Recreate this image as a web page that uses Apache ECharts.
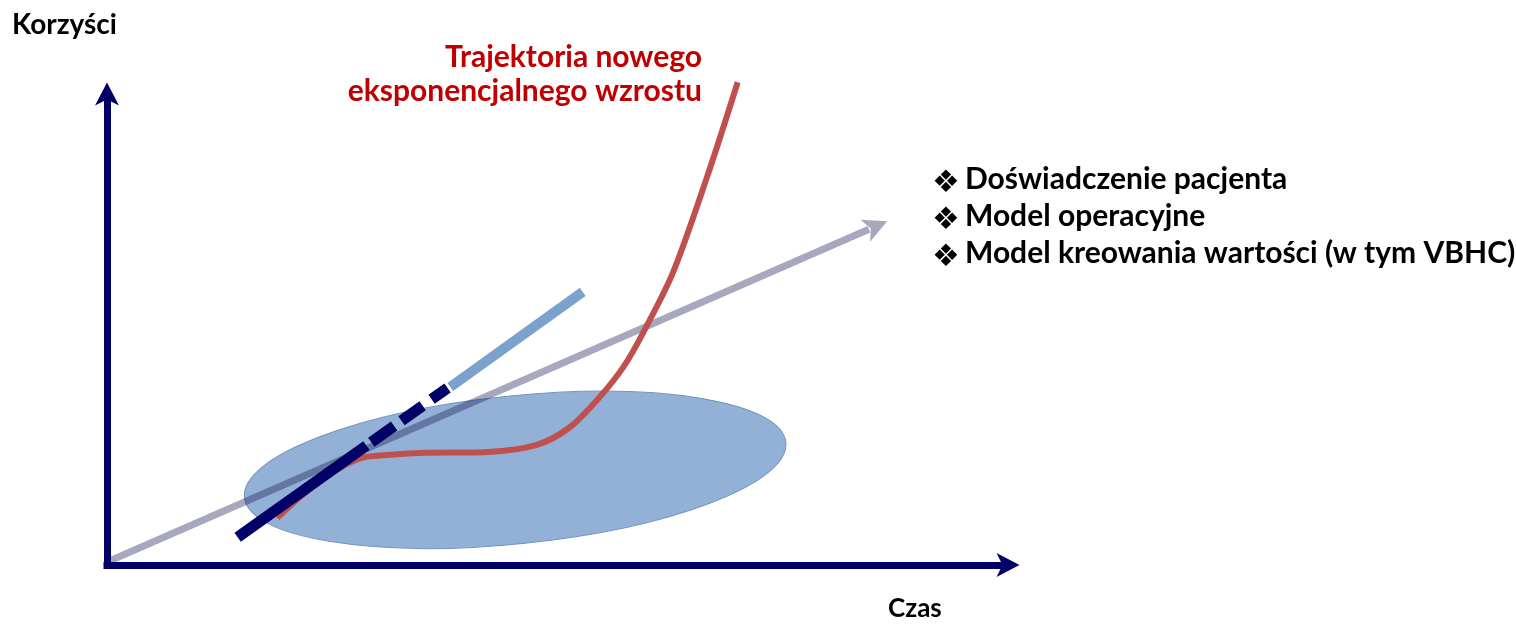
<!DOCTYPE html>
<html>
<head>
<meta charset="utf-8">
<script src="https://cdn.jsdelivr.net/npm/echarts@6/dist/echarts.min.js"></script>
<style>
  html, body { margin: 0; padding: 0; background: #fff; }
  #main { width: 1516px; height: 624px; }
</style>
</head>
<body>
<div id="main"></div>
<script>
// dane (jednostki umowne: czas 0-100, korzyści 0-100)
var trendArrow = [[0.2, 0.8, 86.6, 73.0]];           // szara strzałka: start x,y -> koniec x,y
var growthCurve = [
  [18.9, 10.0], [21.4, 14.4], [24.2, 18.5], [26.6, 21.4], [28.6, 22.9], [31.4, 23.4],
  [34.7, 23.8], [42.2, 24.0], [47.7, 25.5], [51.4, 29.3], [54.7, 35.7], [57.3, 42.0],
  [59.5, 49.3], [62.8, 62.0], [66.6, 82.4], [70.0, 102.5]
];
var linearDark = [[14.5, 5.9], [37.8, 37.6]];
var linearLight = [[38.1, 37.8], [52.8, 58.0]];
var cloud = [[45.3, 20.2, 30.2, 15.7, 5.8]];         // środek x,y, półosie, nachylenie (stopnie)
var bullets = ['Doświadczenie pacjenta', 'Model operacyjne', 'Model kreowania wartości (w tym VBHC)'];
var titleLines = ['Trajektoria nowego', 'eksponencjalnego wzrostu'];

var navy = '#000066';
var font = 'Lato, "Open Sans", sans-serif';

var mychart = echarts.init(document.getElementById('main'));

var hiddenAxis = {
  type: 'value',
  min: 0,
  max: 100,
  axisTick: { show: false },
  axisLabel: { show: false },
  splitLine: { show: false },
  axisLine: {
    show: true,
    symbol: ['none', 'path://M12,0 L24,23 L12,17 L0,23 Z'],
    symbolSize: [24, 23],
    lineStyle: { color: navy, width: 7, cap: 'square' }
  }
};

var option = {
  animation: false,
  grid: { left: 107, right: 508, top: 94, bottom: 59 },
  xAxis: hiddenAxis,
  yAxis: hiddenAxis,
  graphic: [
    { type: 'text', left: 12, top: 11, style: { text: 'Korzyści', font: 'bold 28px ' + font, fill: '#000' } },
    { type: 'text', left: 888, top: 596, style: { text: 'Czas', font: 'bold 26px ' + font, fill: '#000' } },
    { type: 'text', right: 1516 - 702, top: 42, style: { text: titleLines[0], font: 'bold 30px ' + font, fill: '#c00000', textAlign: 'right' } },
    { type: 'text', right: 1516 - 702, top: 76, style: { text: titleLines[1], font: 'bold 30px ' + font, fill: '#c00000', textAlign: 'right' } }
  ],
  series: [
    {
      // chmura / elipsa
      type: 'custom',
      z: 1,
      data: cloud,
      renderItem: function (params, api) {
        var c = api.coord([api.value(0), api.value(1)]);
        var s = api.size([api.value(2), api.value(3)]);
        return {
          type: 'ellipse',
          x: c[0],
          y: c[1],
          rotation: api.value(4) * Math.PI / 180,
          shape: { cx: 0, cy: 0, rx: s[0], ry: s[1] },
          style: { fill: '#93b1d6', stroke: '#7392bd', lineWidth: 1 }
        };
      }
    },
    {
      // szara strzałka
      type: 'custom',
      z: 2,
      data: trendArrow,
      renderItem: function (params, api) {
        var p0 = api.coord([api.value(0), api.value(1)]);
        var p1 = api.coord([api.value(2), api.value(3)]);
        var dx = p1[0] - p0[0], dy = p1[1] - p0[1];
        var len = Math.sqrt(dx * dx + dy * dy);
        var ux = dx / len, uy = dy / len, nx = -uy, ny = ux;
        var L = 24, W = 12, notch = 6;
        var base = [p1[0] - ux * L, p1[1] - uy * L];
        var inner = [p1[0] - ux * (L - notch), p1[1] - uy * (L - notch)];
        var col = 'rgba(16,16,80,0.37)';
        return {
          type: 'group',
          children: [
            { type: 'line', shape: { x1: p0[0], y1: p0[1], x2: inner[0] - ux * 2, y2: inner[1] - uy * 2 }, style: { stroke: col, lineWidth: 7 } },
            { type: 'polygon', shape: { points: [p1, [base[0] + nx * W, base[1] + ny * W], inner, [base[0] - nx * W, base[1] - ny * W]] }, style: { fill: col } }
          ]
        };
      }
    },
    {
      name: 'Trajektoria',
      type: 'line',
      z: 3,
      data: growthCurve,
      smooth: 0.3,
      showSymbol: false,
      clip: false,
      lineStyle: { color: '#c0504d', width: 6 }
    },
    {
      type: 'line',
      z: 4,
      data: linearDark,
      showSymbol: false,
      clip: false,
      lineStyle: { color: navy, width: 11, cap: 'butt', type: [158, 6, 28, 9, 26, 11, 60, 10] }
    },
    {
      type: 'line',
      z: 4,
      data: linearLight,
      showSymbol: false,
      clip: false,
      lineStyle: { color: '#7ba2cc', width: 10, cap: 'butt' }
    }
  ]
};

bullets.forEach(function (t, i) {
  option.graphic.push({ type: 'text', left: 932, top: 168 + i * 37, style: { text: '❖', font: 'bold 31px "DejaVu Sans", sans-serif', fill: '#000' } });
  option.graphic.push({ type: 'text', left: 965, top: 164 + i * 37, style: { text: t, font: 'bold 30px ' + font, fill: '#000' } });
});

mychart.setOption(option);
</script>
</body>
</html>
